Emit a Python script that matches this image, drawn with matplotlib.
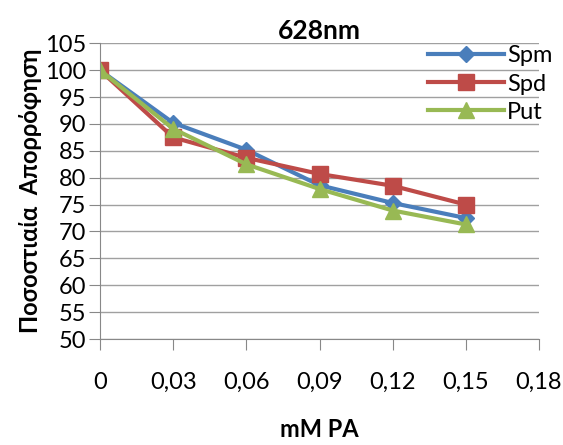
import matplotlib.pyplot as plt
from matplotlib.ticker import FuncFormatter

conc = [0, 0.03, 0.06, 0.09, 0.12, 0.15]
spm = [100, 90.2, 85.2, 78.6, 75.3, 72.5]
spd = [100, 87.5, 83.7, 80.7, 78.5, 75.0]
put = [100, 89.1, 82.5, 77.9, 73.9, 71.3]

x_ticks = [0, 0.03, 0.06, 0.09, 0.12, 0.15, 0.18]
y_ticks = list(range(50, 106, 5))

plt.rcParams['font.family'] = ['Lato', 'DejaVu Sans']

fig = plt.figure(figsize=(5.63, 4.45), dpi=100)
ax = fig.add_axes([100 / 563, 1 - 339 / 445, 439 / 563, (339 - 43.3) / 445])

ax.plot(conc, spm, color='#4A7EBB', lw=3, marker='D', ms=8, label='Spm')
ax.plot(conc, spd, color='#BE4B48', lw=3, marker='s', ms=11, label='Spd')
ax.plot(conc, put, color='#98B954', lw=3, marker='^', ms=12, label='Put')

ax.set_xlim(0, 0.18)
ax.set_ylim(50, 105)
ax.set_xticks(x_ticks)
ax.set_yticks(y_ticks)
ax.xaxis.set_major_formatter(FuncFormatter(lambda v, p: '0' if v == 0 else f'{v:.2f}'.replace('.', ',')))
ax.grid(axis='y', color='#a0a0a0', lw=1)
ax.set_axisbelow(True)
for s in ['top', 'right']:
    ax.spines[s].set_visible(False)
for s in ['left', 'bottom']:
    ax.spines[s].set_color('#888888')
ax.tick_params(axis='both', colors='#888888', labelcolor='black', labelsize=17, length=8)
ax.tick_params(axis='x', pad=16)
ax.tick_params(axis='y', pad=2)

ax.set_title('628nm', fontsize=19, fontweight='bold', pad=3)
ax.set_xlabel('mM PA', fontsize=17, fontweight='bold', labelpad=18)
ax.set_ylabel('Ποσοστιαία  Απορρόφηση', fontsize=17, fontweight='bold', labelpad=2)

ax.legend(loc='upper right', bbox_to_anchor=(562 / 563, 1 - 36 / 445), bbox_transform=fig.transFigure,
          frameon=False, fontsize=17, handlelength=3.2, handletextpad=0.15, labelspacing=0.3,
          borderaxespad=0)

fig.savefig('out.png', dpi=100)
